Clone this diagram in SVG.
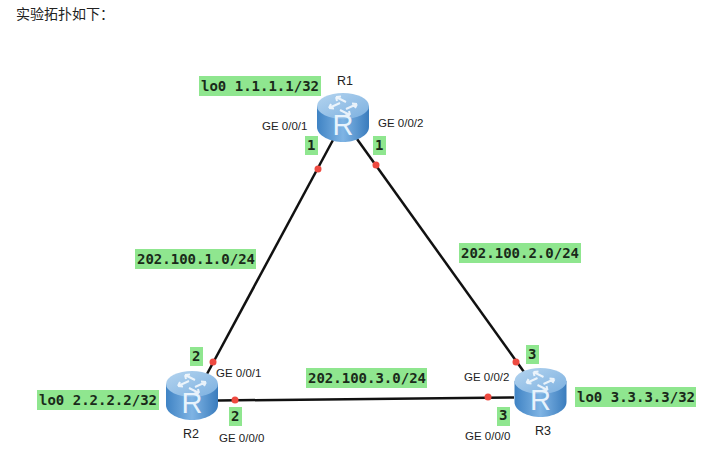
<svg xmlns="http://www.w3.org/2000/svg" width="721" height="473" viewBox="0 0 721 473">
<style>
.lbl{font-family:"Liberation Sans",Arial,sans-serif;font-size:11.5px;fill:#222}
.name{font-family:"Liberation Sans",Arial,sans-serif;font-size:12.5px;fill:#222}
.mono{font-family:"DejaVu Sans Mono","Liberation Mono",monospace;font-size:14px;font-weight:bold;fill:#1a2a1a}
.bg{fill:#8fe68f}
.link{stroke:#111;stroke-width:2.5;fill:none}
.dot{fill:#ee4a40}
.arrow{stroke:#fff;stroke-width:2;fill:none;opacity:.8}
</style>
<defs>
<linearGradient id="side" x1="0" x2="1" y1="0" y2="0">
<stop offset="0" stop-color="#3f83c4"/><stop offset=".5" stop-color="#7fb4e4"/><stop offset="1" stop-color="#3a7cbd"/>
</linearGradient>
<linearGradient id="top" x1="0" x2="1" y1="0" y2="1">
<stop offset="0" stop-color="#b4d4ef"/><stop offset="1" stop-color="#7cb0e0"/>
</linearGradient>
<g id="router">
<path d="M-26-23V-2C-26 7-12 13 0 13S26 7 26-2V-23Z" fill="url(#side)"/>
<ellipse cx="0" cy="-23" rx="26" ry="13" fill="url(#top)"/>
<path class="arrow" d="M-14-21L-3-26M-14-21l5 .5M-14-21l2-4M14-25L3-20M14-25l-5-.5M14-25l-2 4M-7-32L3-27M-7-32l5-.5M-7-32l1 4M7-14L-3-19M7-14l-5 .5M7-14l-1-4"/>
<text x="0" y="6" text-anchor="middle" font-family="Liberation Sans,Arial,sans-serif" font-size="29" fill="#e8f3fc">R</text>
</g>
</defs>
<rect width="721" height="473" fill="#fff"/>
<text x="16" y="19" font-family="Noto Sans CJK SC,sans-serif" font-size="14" fill="#222">实验拓扑如下：</text>
<g id="connectors">
<path class="link" d="M333 140L207 374"/>
<path class="link" d="M357 139L524 372"/>
<path class="link" d="M218 400.500L514 397.500"/>
<circle class="dot" cx="318" cy="169" r="3.500"/>
<circle class="dot" cx="376" cy="165" r="3.500"/>
<circle class="dot" cx="213" cy="362" r="3.500"/>
<circle class="dot" cx="235" cy="400" r="3.500"/>
<circle class="dot" cx="516" cy="362" r="3.500"/>
<circle class="dot" cx="488" cy="397" r="3.500"/>
</g>
<g id="R1">
<use href="#router" x="343" y="129"/>
<text class="name" x="337" y="85">R1</text>
<text class="lbl" x="262" y="130">GE 0/0/1</text>
<text class="lbl" x="378" y="127">GE 0/0/2</text>
<rect class="bg" x="199" y="76" width="122" height="20"/>
<text class="mono" x="201" y="90.500">lo0 1.1.1.1/32</text>
<rect class="bg" x="305" y="136" width="13" height="19"/>
<text class="mono" x="307" y="150">1</text>
<rect class="bg" x="373" y="136" width="13" height="19"/>
<text class="mono" x="375" y="150">1</text>
</g>
<g id="R2">
<use href="#router" x="192" y="407"/>
<text class="name" x="183" y="438">R2</text>
<text class="lbl" x="216" y="377">GE 0/0/1</text>
<text class="lbl" x="219" y="442">GE 0/0/0</text>
<rect class="bg" x="37" y="390" width="122" height="20"/>
<text class="mono" x="39" y="404.500">lo0 2.2.2.2/32</text>
<rect class="bg" x="190" y="347" width="13" height="19"/>
<text class="mono" x="192" y="361">2</text>
<rect class="bg" x="229" y="407" width="13" height="19"/>
<text class="mono" x="231" y="421">2</text>
</g>
<g id="R3">
<use href="#router" x="540.500" y="404"/>
<text class="name" x="535" y="435">R3</text>
<text class="lbl" x="464" y="381">GE 0/0/2</text>
<text class="lbl" x="465" y="440">GE 0/0/0</text>
<rect class="bg" x="575" y="387" width="121" height="20"/>
<text class="mono" x="577" y="401.500">lo0 3.3.3.3/32</text>
<rect class="bg" x="526" y="345" width="13" height="19"/>
<text class="mono" x="528" y="359">3</text>
<rect class="bg" x="497" y="407" width="13" height="19"/>
<text class="mono" x="499" y="420">3</text>
</g>
<g id="subnets">
<rect class="bg" x="135" y="249" width="121" height="20"/>
<text class="mono" x="137" y="263.500">202.100.1.0/24</text>
<rect class="bg" x="459" y="243" width="122" height="20"/>
<text class="mono" x="461" y="257.500">202.100.2.0/24</text>
<rect class="bg" x="306" y="368" width="121" height="20"/>
<text class="mono" x="308" y="382.500">202.100.3.0/24</text>
</g>
</svg>
